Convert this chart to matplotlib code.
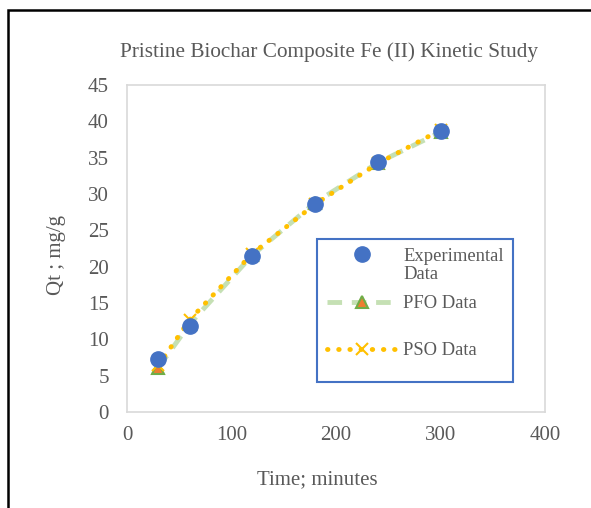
import matplotlib
matplotlib.use('Agg')
import matplotlib.pyplot as plt
from matplotlib.patches import Rectangle

plt.rcParams['font.family'] = ['Liberation Serif', 'DejaVu Serif']

# data
time_min = [30, 60, 120, 180, 240, 300]
qt_exp = [7.3, 11.9, 21.5, 28.6, 34.4, 38.7]
qt_pfo = [6.1, 12.1, 21.6, 28.8, 34.3, 38.5]
qt_pso = [6.4, 12.7, 21.8, 28.6, 34.2, 38.8]

text_color = '#595959'
fs = 15

fig = plt.figure(figsize=(5.91, 5.08), dpi=100)
ax = fig.add_axes([127 / 591, 1 - 412 / 508, 418 / 591, 327 / 508])

ax.plot(time_min, qt_exp, linestyle='none', marker='o', markersize=11,
        color='#4472C4', label='Experimental', zorder=5)
ax.plot(time_min, qt_pfo, linestyle=(0, (3, 2)), linewidth=3.5, color='#C5E0B4',
        marker='^', markersize=8, markerfacecolor='#ED7D31', markeredgecolor='#70AD47',
        markeredgewidth=1.5, label='PFO Data', zorder=3)
ax.plot(time_min, qt_pso, linestyle=(0, (0.1, 2.2)), linewidth=3.5, dash_capstyle='round',
        solid_capstyle='round', color='#FFC000', marker='x', markersize=8,
        markeredgewidth=1.5, label='PSO Data', zorder=4)

ax.set_xlim(0, 400)
ax.set_ylim(0, 45)
ax.set_xticks([0, 100, 200, 300, 400])
ax.set_yticks(range(0, 50, 5))
ax.tick_params(axis='both', length=0, labelsize=fs, colors=text_color)
ax.tick_params(axis='y', pad=13)
ax.tick_params(axis='x', pad=10)
for spine in ax.spines.values():
    spine.set_color('#D9D9D9')
    spine.set_linewidth(1.2)

fig.text(329 / 591, 1 - 52 / 508, 'Pristine Biochar Composite Fe (II) Kinetic Study',
         ha='center', va='center', fontsize=15.3, color=text_color)
fig.text(317 / 591, 1 - 480 / 508, 'Time; minutes', ha='center', va='center',
         fontsize=fs, color=text_color)
fig.text(56 / 591, 1 - 255 / 508, 'Qt ; mg/g', ha='center', va='center',
         rotation=90, fontsize=fs, color=text_color)

# legend: contents placed by the legend, frame drawn as its own box
leg_font = {'family': 'Liberation Serif', 'size': 13.4}
leg = ax.legend(loc='upper left', bbox_to_anchor=(0.4785, 0.502), prop=leg_font,
                labelspacing=1.62, handlelength=3.8, handletextpad=0.3,
                borderpad=0, borderaxespad=0, frameon=False)
for t in leg.get_texts():
    t.set_color(text_color)
# Excel wraps the first label; second line sits under the first, marker stays on line one
ax.annotate('Data', xy=(0, 1), xycoords=leg.get_texts()[0], xytext=(0, -18),
            textcoords='offset pixels', ha='left', va='top', fontproperties=leg_font,
            color=text_color, zorder=7)
ax.add_patch(Rectangle((0.4545, 0.092), 0.4685, 0.437, transform=ax.transAxes,
                       fill=False, edgecolor='#4472C4', linewidth=1.5, zorder=6))

# outer chart border
fig.add_artist(Rectangle((8 / 591, -0.05), 1.2, 1 - 10 / 508 + 0.05, transform=fig.transFigure,
                         fill=False, edgecolor='black', linewidth=1.8, clip_on=False))

fig.savefig('out.png', dpi=100)
